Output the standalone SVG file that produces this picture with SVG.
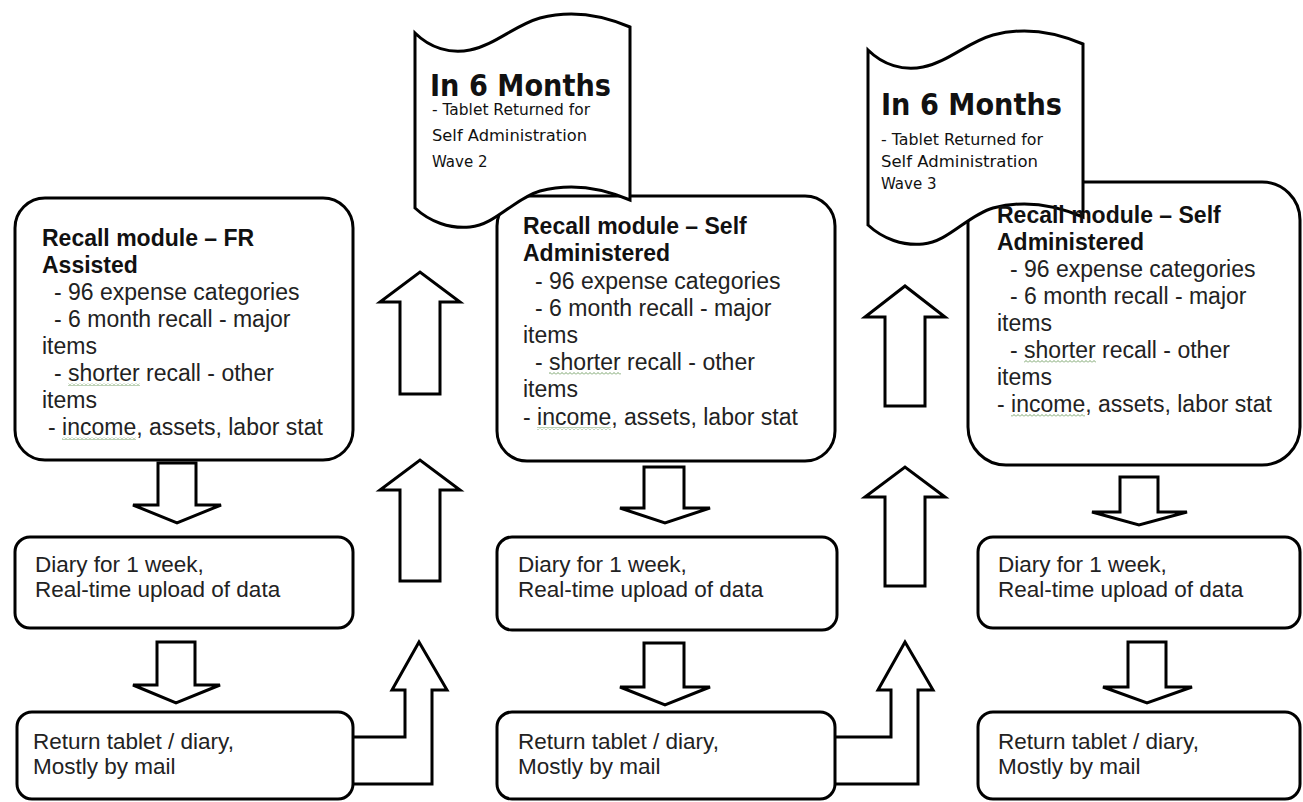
<svg xmlns="http://www.w3.org/2000/svg" width="1303" height="802" viewBox="0 0 1303 802">
<style>
.bx{fill:#fff;stroke:#000;stroke-width:3}
.ar{fill:#fff;stroke:#000;stroke-width:3;stroke-linejoin:miter}
.tp{fill:#fff;stroke:#000;stroke-width:3}
.t{font-family:"Liberation Sans",Arial,sans-serif;font-size:23px;fill:#222}
.tb{font-family:"Liberation Sans",Arial,sans-serif;font-size:23px;font-weight:bold;fill:#111}
.s{font-family:"Liberation Sans",Arial,sans-serif;font-size:22.5px;fill:#222}
.ch{font-family:"Comic Sans MS","DejaVu Sans",sans-serif;font-weight:bold;font-size:31px;fill:#111}
.cs{font-family:"Comic Sans MS","DejaVu Sans",sans-serif;font-size:15px;fill:#111}
</style>
<defs>
<pattern id="sq" width="4" height="3" patternUnits="userSpaceOnUse">
<path d="M0,2.5 L2,0.5 L4,2.5" fill="none" stroke="#6a9a5a" stroke-width="0.9"/>
</pattern>
<path id="tape" d="M415,33 C430,48 450,54 470,50 C495,45 515,25 540,18 C570,10 600,14 630,27 L630,200 C600,187 570,183 540,191 C515,198 495,225 470,227 C450,229 430,222 415,208 Z"/>
</defs>

<g id="connectors">
<path class="ar" d="M158,463 L196,463 L196,505 L221,505 L177,523 L133,505 L158,505 Z"/>
<path class="ar" d="M157,642 L195,642 L195,685 L220,685 L176,703 L133,685 L157,685 Z"/>
<path class="ar" d="M644,467 L684,467 L684,508 L710,508 L665,523 L620,508 L644,508 Z"/>
<path class="ar" d="M644,643 L684,643 L684,687 L710,687 L665,705 L620,687 L644,687 Z"/>
<path class="ar" d="M1120,477 L1158,477 L1158,512 L1187,512 L1139,525 L1092,512 L1120,512 Z"/>
<path class="ar" d="M1128,642 L1166,642 L1166,687 L1192,687 L1147,703 L1103,687 L1128,687 Z"/>
<path class="ar" d="M400,394 L400,302 L380,302 L420,272 L460,302 L440,302 L440,394 Z"/>
<path class="ar" d="M400,581 L400,490 L380,490 L420,460 L460,490 L440,490 L440,581 Z"/>
<path class="ar" d="M885,406 L885,317 L865,317 L905,286 L945,317 L925,317 L925,406 Z"/>
<path class="ar" d="M885,586 L885,497 L865,497 L905,467 L945,497 L925,497 L925,586 Z"/>
<path class="ar" d="M353,737 L405,737 L405,690 L392,690 L419,642 L447,690 L432,690 L432,784 L353,784"/>
<path class="ar" d="M835,737 L891,737 L891,690 L878,690 L905,642 L933,690 L918,690 L918,784 L835,784"/>
</g>

<g id="recall-1">
<rect class="bx" x="15" y="198" width="338" height="262" rx="30"/>
<text class="tb" x="42" y="246">Recall module – FR</text>
<text class="tb" x="42" y="273">Assisted</text>
<text class="t" x="54" y="300">- 96 expense categories</text>
<text class="t" x="54" y="327">- 6 month recall - major</text>
<text class="t" x="42" y="354">items</text>
<text class="t" x="54" y="381">- shorter recall - other</text>
<text class="t" x="42" y="408">items</text>
<text class="t" x="48" y="435">- income, assets, labor stat</text>
<rect x="68" y="383" width="72" height="3" fill="url(#sq)"/>
<rect x="62" y="437" width="74" height="3" fill="url(#sq)"/>
</g>

<g id="recall-2">
<rect class="bx" x="497" y="196" width="338" height="265" rx="30"/>
</g>
<g id="tape-1">
<use href="#tape" class="tp"/>
<text class="ch" x="430" y="96" textLength="181" lengthAdjust="spacingAndGlyphs">In 6 Months</text>
<text class="cs" x="432" y="115" textLength="158" lengthAdjust="spacingAndGlyphs">- Tablet Returned for</text>
<text class="cs" x="432" y="141" textLength="155" lengthAdjust="spacingAndGlyphs">Self Administration</text>
<text class="cs" x="432" y="167">Wave 2</text>
</g>
<g id="recall-2-text">
<text class="tb" x="523" y="234">Recall module – Self</text>
<text class="tb" x="523" y="261">Administered</text>
<text class="t" x="535" y="289">- 96 expense categories</text>
<text class="t" x="535" y="316">- 6 month recall - major</text>
<text class="t" x="523" y="343">items</text>
<text class="t" x="535" y="370">- shorter recall - other</text>
<text class="t" x="523" y="397">items</text>
<text class="t" x="523" y="425">- income, assets, labor stat</text>
<rect x="549" y="372" width="72" height="3" fill="url(#sq)"/>
<rect x="537" y="427" width="74" height="3" fill="url(#sq)"/>
</g>

<g id="recall-3">
<rect class="bx" x="968" y="182" width="332" height="283" rx="38"/>
</g>
<g id="tape-2">
<use href="#tape" class="tp" transform="translate(453,17)"/>
<text class="ch" x="881" y="115" textLength="181" lengthAdjust="spacingAndGlyphs">In 6 Months</text>
<text class="cs" x="881" y="145" textLength="162" lengthAdjust="spacingAndGlyphs">- Tablet Returned for</text>
<text class="cs" x="881" y="167" textLength="157" lengthAdjust="spacingAndGlyphs">Self Administration</text>
<text class="cs" x="881" y="189">Wave 3</text>
</g>
<g id="recall-3-text">
<text class="tb" x="997" y="223">Recall module – Self</text>
<text class="tb" x="997" y="250">Administered</text>
<text class="t" x="1010" y="277">- 96 expense categories</text>
<text class="t" x="1010" y="304">- 6 month recall - major</text>
<text class="t" x="997" y="331">items</text>
<text class="t" x="1010" y="358">- shorter recall - other</text>
<text class="t" x="997" y="385">items</text>
<text class="t" x="997" y="412">- income, assets, labor stat</text>
<rect x="1024" y="360" width="72" height="3" fill="url(#sq)"/>
<rect x="1011" y="414" width="74" height="3" fill="url(#sq)"/>
</g>

<g id="diary-1">
<rect class="bx" x="15" y="537" width="338" height="91" rx="15"/>
<text class="s" x="35" y="572">Diary for 1 week,</text>
<text class="s" x="35" y="597">Real-time upload of data</text>
</g>
<g id="diary-2">
<rect class="bx" x="497" y="537" width="340" height="93" rx="15"/>
<text class="s" x="518" y="572">Diary for 1 week,</text>
<text class="s" x="518" y="597">Real-time upload of data</text>
</g>
<g id="diary-3">
<rect class="bx" x="978" y="537" width="322" height="91" rx="15"/>
<text class="s" x="998" y="572">Diary for 1 week,</text>
<text class="s" x="998" y="597">Real-time upload of data</text>
</g>

<g id="return-1">
<rect class="bx" x="17" y="712" width="336" height="87" rx="15"/>
<text class="s" x="33" y="749">Return tablet / diary,</text>
<text class="s" x="33" y="774">Mostly by mail</text>
</g>
<g id="return-2">
<rect class="bx" x="497" y="712" width="338" height="87" rx="15"/>
<text class="s" x="518" y="749">Return tablet / diary,</text>
<text class="s" x="518" y="774">Mostly by mail</text>
</g>
<g id="return-3">
<rect class="bx" x="978" y="712" width="322" height="87" rx="15"/>
<text class="s" x="998" y="749">Return tablet / diary,</text>
<text class="s" x="998" y="774">Mostly by mail</text>
</g>
</svg>
